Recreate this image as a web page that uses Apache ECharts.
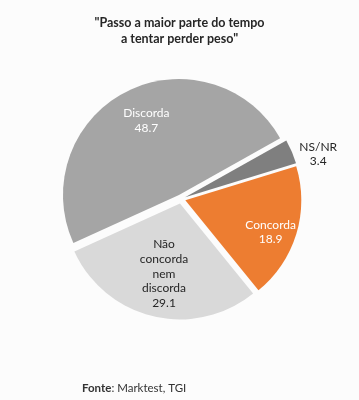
<!DOCTYPE html>
<html>
<head>
<meta charset="utf-8">
<script src="https://cdn.jsdelivr.net/npm/echarts@6/dist/echarts.min.js"></script>
<style>
html,body{margin:0;padding:0;background:#fcfcfc;}
#c{width:359px;height:400px;}
</style>
</head>
<body>
<div id="c"></div>
<script>
const categories = ["NS/NR", "Concorda", "Não concorda nem discorda", "Discorda"];
const labelNames = ["NS/NR", "Concorda", "Não\nconcorda\nnem\ndiscorda", "Discorda"];
const values = [3.4, 18.9, 29.1, 48.7];
const colors = ["#7f7f7f", "#ed7d31", "#d9d9d9", "#a5a5a5"];
const labelColors = ["#262626", "#ffffff", "#262626", "#ffffff"];
const labelShift = [[77, -19], [27, 14], [-2, 11], [-5, -20]];

const chart = echarts.init(document.getElementById('c'), null, {renderer: 'canvas'});
const FONT = 'Lato, "Open Sans", sans-serif';
chart.setOption({
  backgroundColor: '#fcfcfc',
  animation: false,
  title: [{
    text: '"Passo a maior parte do tempo\na tentar perder peso"',
    left: 'center',
    top: 10,
    textStyle: {fontFamily: FONT, fontSize: 12.5, fontWeight: 'bold', color: '#262626', lineHeight: 16}
  }, {
    text: '{b|Fonte}: Marktest, TGI',
    left: 77,
    top: 377,
    textStyle: {fontFamily: FONT, fontSize: 11.5, fontWeight: 'normal', color: '#333', rich: {b: {fontFamily: FONT, fontSize: 11.5, fontWeight: 'bold', color: '#333'}}}
  }],
  series: [{
    type: 'pie',
    center: [181, 199],
    radius: [0, 116],
    startAngle: 29.3,
    clockwise: true,
    selectedMode: 'multiple',
    selectedOffset: 4.5,
    avoidLabelOverlap: false,
    emphasis: {disabled: true},
    data: categories.map((c, i) => ({
      name: c,
      value: values[i],
      selected: true,
      itemStyle: {color: colors[i]},
      label: {color: labelColors[i]}
    })),
    label: {
      show: true,
      position: 'inside',
      fontFamily: FONT,
      fontSize: 12,
      lineHeight: 14.7,
      align: 'center',
      formatter: p => labelNames[p.dataIndex] + '\n' + values[p.dataIndex].toFixed(1)
    },
    labelLine: {show: false},
    labelLayout: p => ({dx: labelShift[p.dataIndex][0], dy: labelShift[p.dataIndex][1]})
  }]
});
</script>
</body>
</html>
